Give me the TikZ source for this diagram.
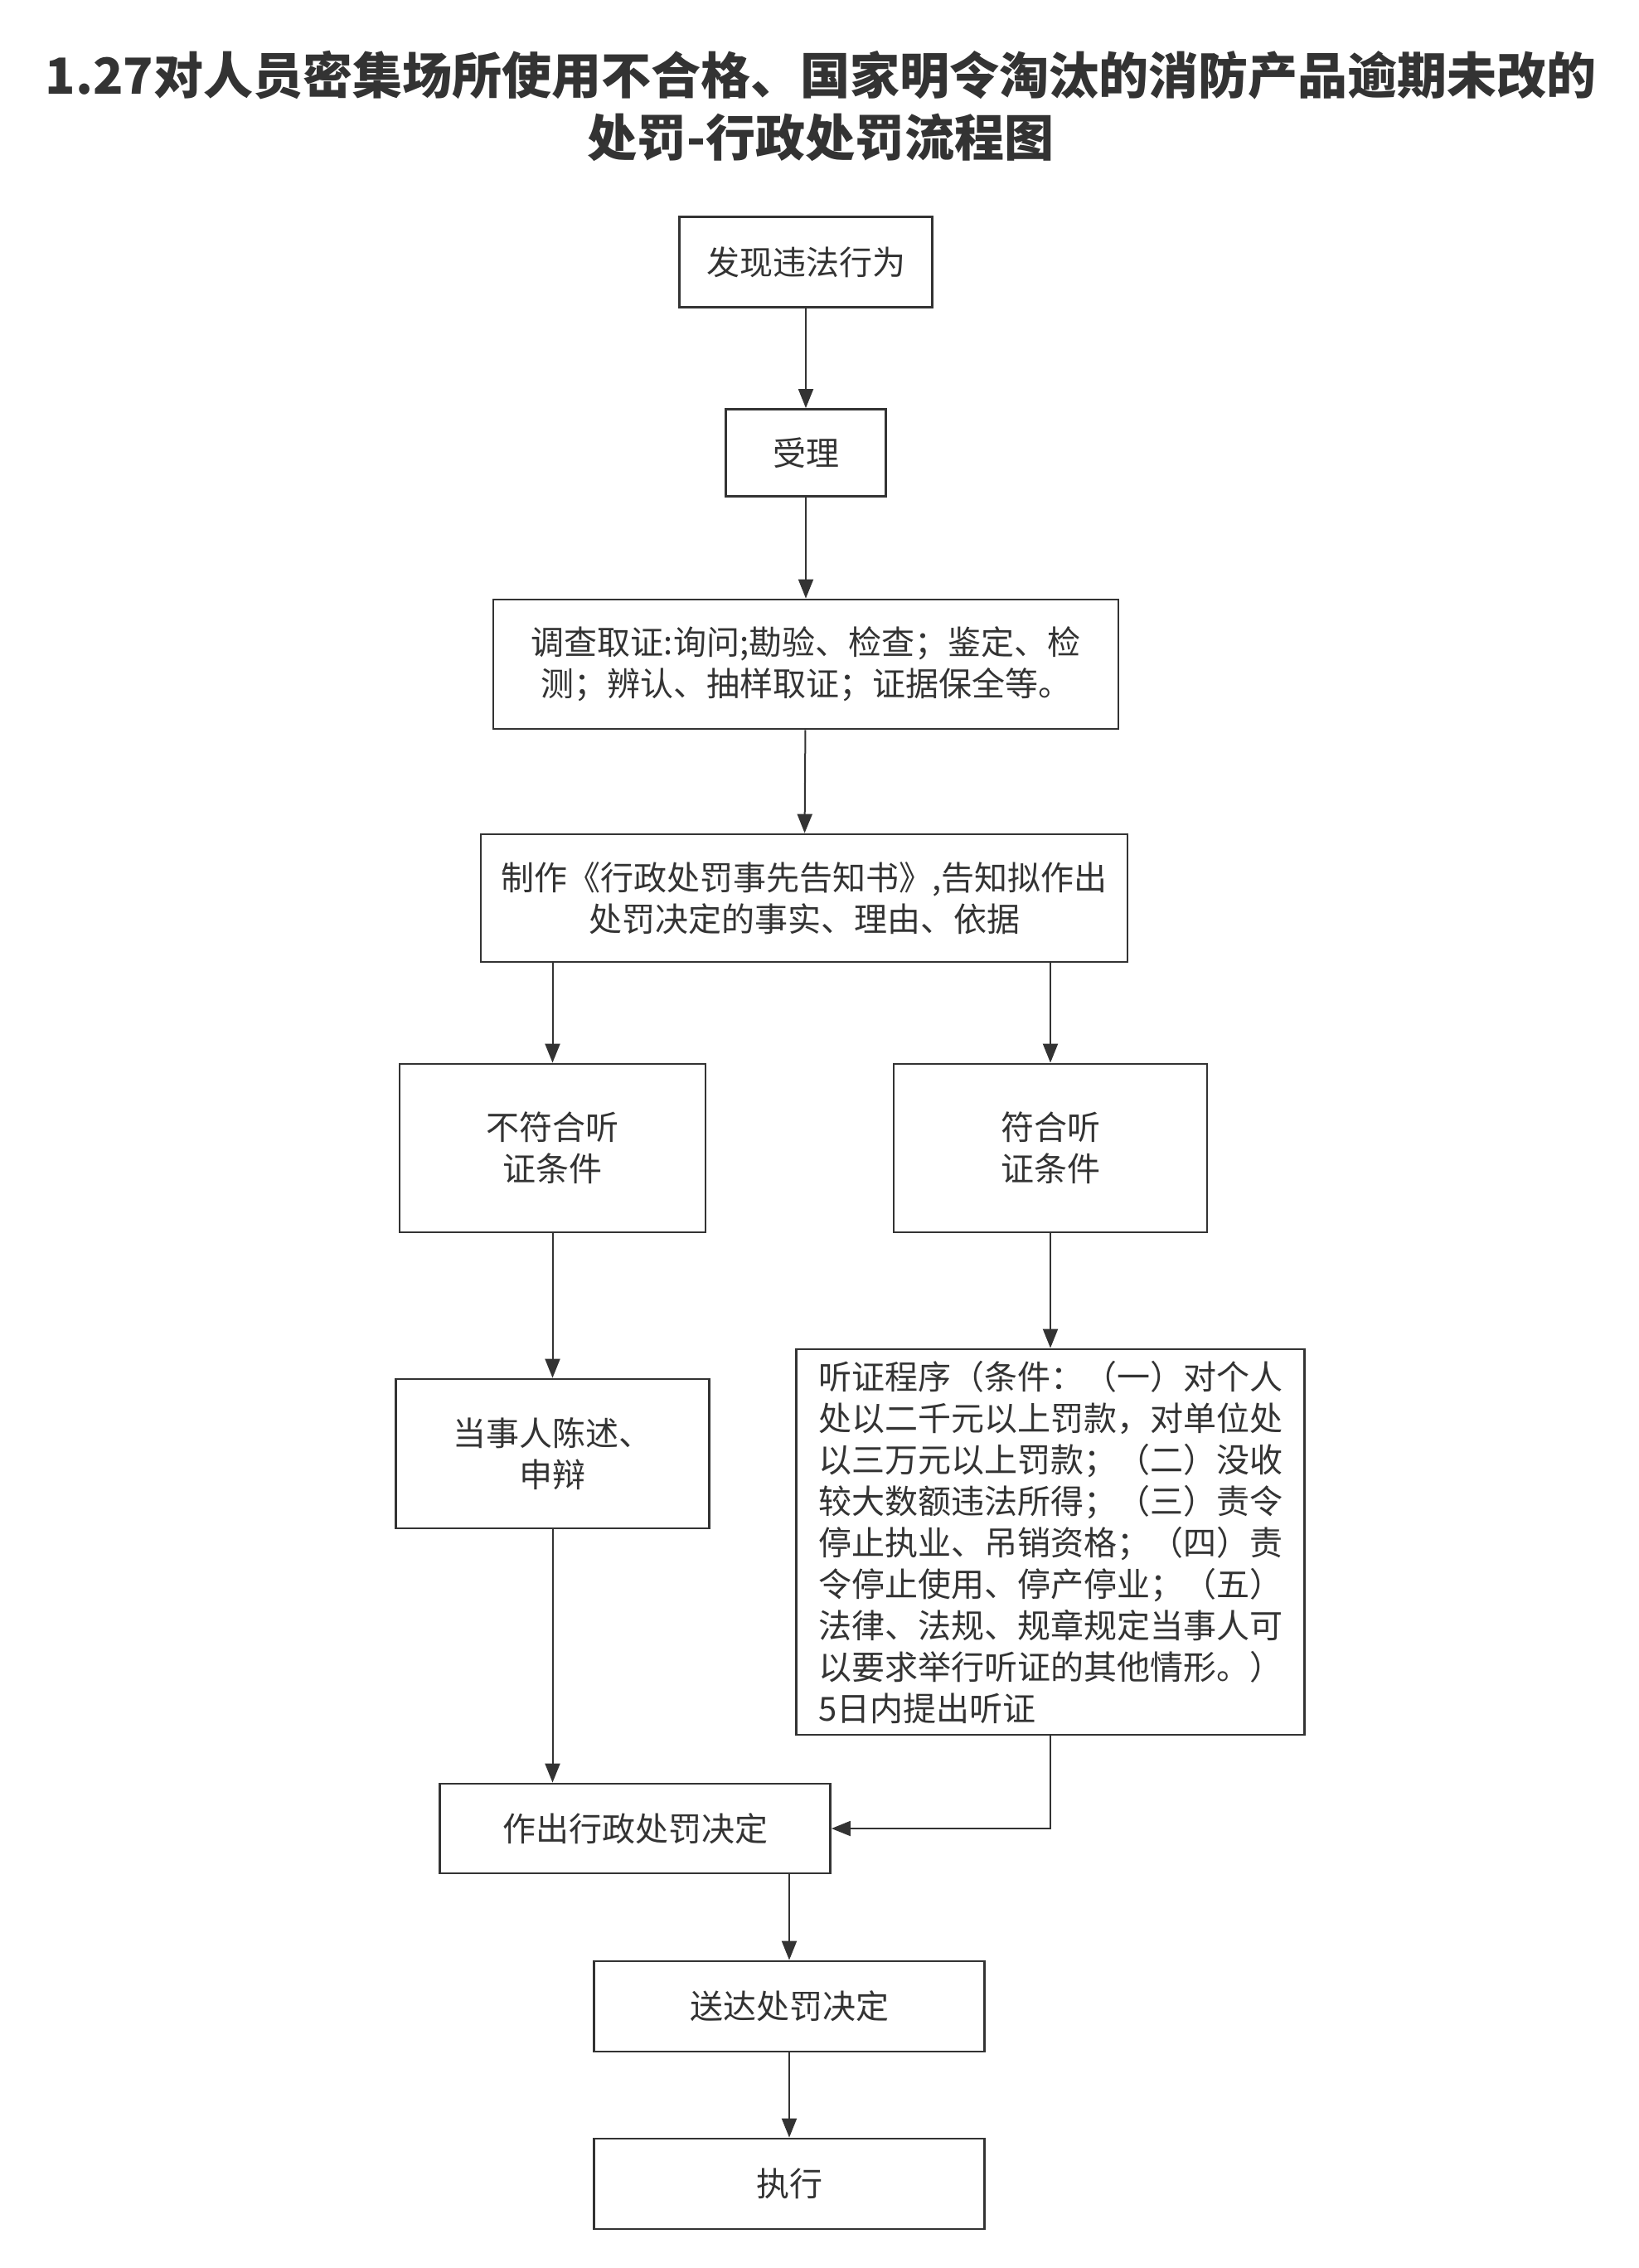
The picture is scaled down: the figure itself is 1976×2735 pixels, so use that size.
\documentclass[tikz,border=0pt]{standalone}
\usepackage{fontspec}
\setmainfont{Noto Sans CJK SC}
\usepackage{xcolor}
\usetikzlibrary{arrows.meta,positioning}
\definecolor{ink}{HTML}{333333}

\begin{document}
\begin{tikzpicture}[x=0.5pt,y=-0.5pt,node distance=100pt,on grid,
    box/.style={draw=ink,line width=1.4pt,text=ink,inner sep=0pt,align=center,
      font=\fontsize{20pt}{25pt}\selectfont},
    every edge/.style={draw=ink,line width=1pt},
    >={Triangle[length=11.5pt,width=9pt]}]
    \useasboundingbox (0,0) rectangle (1976,2735);
    \node[text=ink,align=center,font=\fontsize{30pt}{37.5pt}\selectfont\bfseries] (title) at (990,128)
      {1.27对人员密集场所使用不合格、国家明令淘汰的消防产品逾期未改的\\处罚-行政处罚流程图};
    \node[box,minimum width=152.5pt,minimum height=54.5pt] (find) at (972,316) {发现违法行为};
    \node[box,minimum width=96.5pt,minimum height=52.5pt] (accept) [below=115pt of find] {受理};
    \node[box,minimum width=377pt,minimum height=78pt] (inquire) [below=127.5pt of accept]
      {调查取证:询问;勘验、检查；鉴定、检\\测；辨认、抽样取证；证据保全等。};
    \node[box,minimum width=390pt,minimum height=77pt] (notice) [below=141pt of inquire,xshift=-1pt]
      {制作《行政处罚事先告知书》,告知拟作出\\处罚决定的事实、理由、依据};
    \node[box,minimum width=184.5pt,minimum height=101.5pt] (nohear) [below left=150.75pt and 151.75pt of notice]
      {不符合听\\证条件};
    \node[box,minimum width=189pt,minimum height=101.5pt] (hear) [right=300.25pt of nohear]
      {符合听\\证条件};
    \node[box,minimum width=189pt,minimum height=90pt] (plead) [below=184.25pt of nohear]
      {当事人陈述、\\申辩};
    \node[box,minimum width=306.5pt,minimum height=232.5pt,align=left] (hearing) [below=237.5pt of hear]
      {听证程序（条件：（一）对个人\\处以二千元以上罚款，对单位处\\以三万元以上罚款；（二）没收\\较大数额违法所得；（三）责令\\停止执业、吊销资格；（四）责\\令停止使用、停产停业；（五）\\法律、法规、规章规定当事人可\\以要求举行听证的其他情形。）\\5日内提出听证};
    \node[box,minimum width=235.5pt,minimum height=54pt] (decide) [below right=226pt and 49.75pt of plead]
      {作出行政处罚决定};
    \node[box,minimum width=235.5pt,minimum height=54.5pt] (deliver) [below right=107.25pt and 93pt of decide]
      {送达处罚决定};
    \node[box,minimum width=235.5pt,minimum height=54.5pt] (execute) [below=107pt of deliver] {执行};
    \path[->]
    (find) edge (accept)
    (accept) edge (inquire)
    (inquire) edge (notice)
    % the two branches
    (nohear |- notice.south) edge (nohear)
    (hear |- notice.south) edge (hear)
    (nohear) edge (plead)
    (hear) edge (hearing)
    (plead.south) edge (plead |- decide.north)
    % decision and after
    (deliver |- decide.south) edge (deliver)
    (deliver) edge (execute);
    \draw[->,draw=ink,line width=1pt] (hearing.south) |- (decide.east);
\end{tikzpicture}
\end{document}
